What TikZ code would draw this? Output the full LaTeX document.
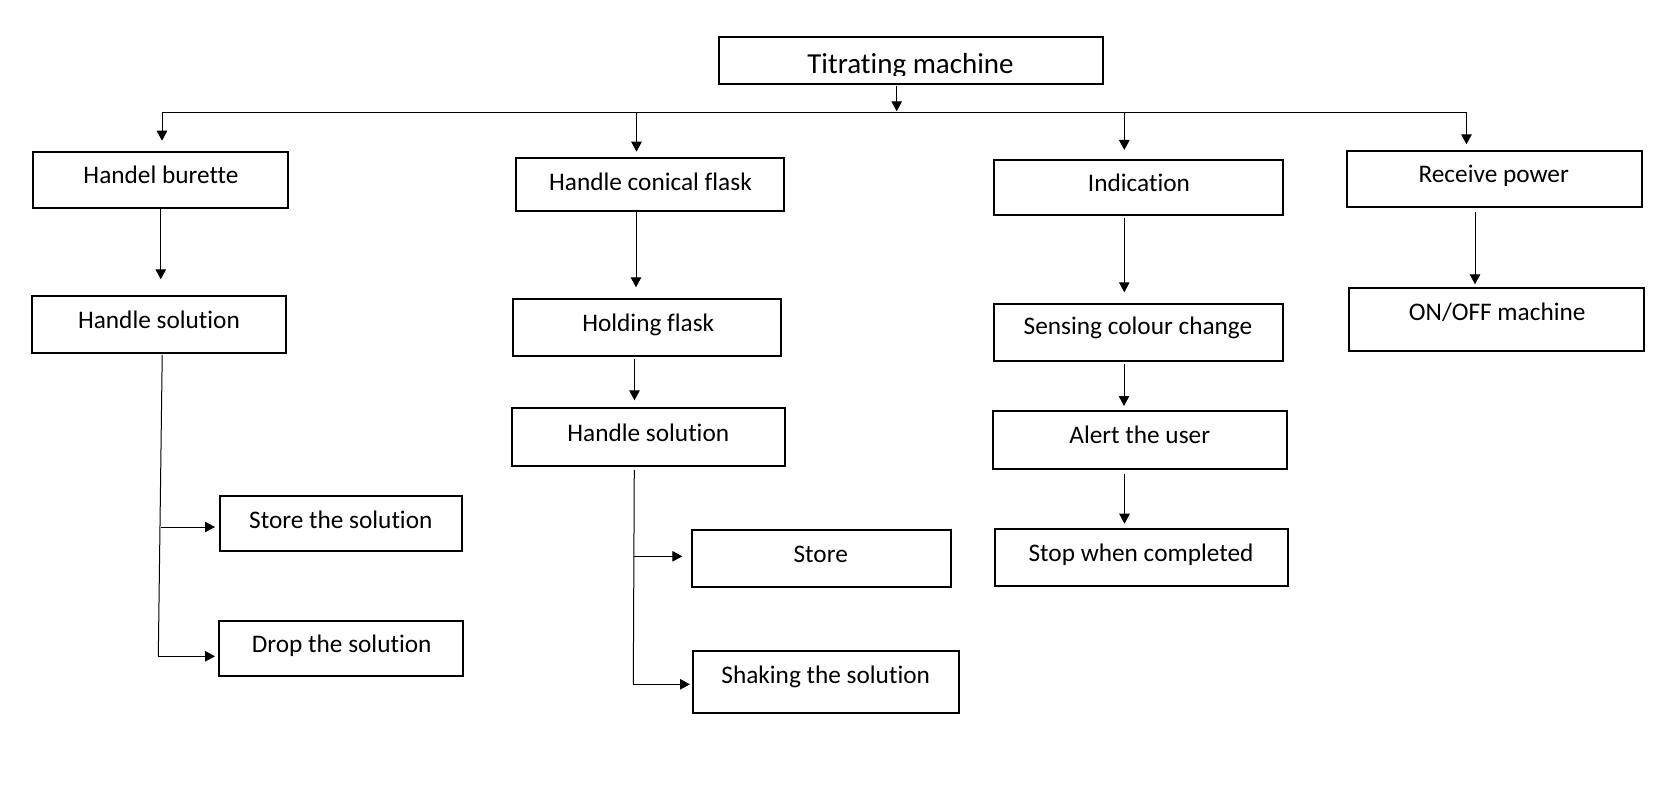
\documentclass[tikz,border=0pt]{standalone}
\usepackage{fontspec}
\setmainfont{Carlito}[Ligatures={NoCommon}]
\usetikzlibrary{arrows.meta}
\begin{document}
\begin{tikzpicture}[x=1pt,y=-1pt,
  box/.style={draw, line width=1.8pt, inner sep=0pt, outer sep=0pt},
  txt/.style={font=\fontsize{25.3}{30}\selectfont, inner sep=0pt, anchor=base},
  conn/.style={line width=1pt},
  arr/.style={line width=1pt, -{Triangle[width=10.5pt,length=10pt]}}]
\useasboundingbox[fill=white] (0,0) rectangle (1675,791);

% boxes
\node[box, minimum width=384pt,   minimum height=47.3pt] (tm)  at (911.3,60.35) {};
\node[box, minimum width=255pt,   minimum height=56.6pt] (hb)  at (160.8,180) {};
\node[box, minimum width=254.3pt, minimum height=57pt]   (hs)  at (158.85,324.2) {};
\node[box, minimum width=242.3pt, minimum height=54.7pt] (st)  at (341.15,523.35) {};
\node[box, minimum width=244pt,   minimum height=55pt]   (dr)  at (341.3,648.5) {};
\node[box, minimum width=268.3pt, minimum height=53.3pt] (hcf) at (649.85,184.35) {};
\node[box, minimum width=268.6pt, minimum height=57pt]   (hf)  at (647,327.5) {};
\node[box, minimum width=273.6pt, minimum height=58.3pt] (hs2) at (648.5,436.85) {};
\node[box, minimum width=259.3pt, minimum height=57.3pt] (st2) at (821.35,558.35) {};
\node[box, minimum width=266.3pt, minimum height=62pt]   (sh)  at (825.85,682) {};
\node[box, minimum width=289pt,   minimum height=55pt]   (ind) at (1138.8,187.5) {};
\node[box, minimum width=289.6pt, minimum height=57pt]   (sen) at (1138.5,332.2) {};
\node[box, minimum width=294.6pt, minimum height=58pt]   (al)  at (1140,440) {};
\node[box, minimum width=293.6pt, minimum height=57pt]   (sp)  at (1141.5,557.2) {};
\node[box, minimum width=295pt,   minimum height=56.3pt] (rp)  at (1494.2,178.85) {};
\node[box, minimum width=295.6pt, minimum height=63.3pt] (oo)  at (1496.5,319.35) {};

% texts
\begin{scope}
\clip (719.3,36.7) rectangle (1103.3,76);
\node[txt, font=\fontsize{29}{34}\selectfont] (tmt) at (910.5,74) {Titrating machine};
\end{scope}
\node[txt] (hbt)  at (161,184)     {Handel burette};
\node[txt] (hst)  at (159,328.3)   {Handle solution};
\node[txt] (stt)  at (340.8,528.3) {Store the solution};
\node[txt] (drt)  at (341.7,652.7) {Drop the solution};
\node[txt] (hcft) at (650.5,190.7) {Handle conical flask};
\node[txt] (hft)  at (648.3,331.7) {Holding flask};
\node[txt] (hs2t) at (648.3,441)   {Handle solution};
\node[txt] (st2t) at (820.7,562.7) {Store};
\node[txt] (sht)  at (825.7,683.3) {Shaking the solution};
\node[txt] (indt) at (1139,191.7)  {Indication};
\node[txt] (sent) at (1138,335)    {Sensing colour change};
\node[txt] (alt)  at (1139.7,443.7) {Alert the user};
\node[txt] (spt)  at (1141,561.7)  {Stop when completed};
\node[txt] (rpt)  at (1493.7,182.7) {Receive power};
\node[txt] (oot)  at (1497.2,320.7) {ON/OFF machine};

% bus
\coordinate (busL) at (162,112.3);
\coordinate (busR) at (1466.5,112.3);
\coordinate (bTop) at (896.7,112.3);
\coordinate (b2) at (636.5,112.3);
\coordinate (b3) at (1124.3,112.3);
\draw[conn] (busL) -- (busR);
\draw[arr, shorten <=2pt, shorten >=1pt] ([xshift=-14.6pt]tm.south) -- (bTop);
\draw[arr, shorten >=11pt] (busL) -- (busL |- hb.north);
\draw[arr, shorten >=6pt] (b2) -- (b2 |- hcf.north);
\draw[arr, shorten >=10pt] (b3) -- (b3 |- ind.north);
\draw[arr, shorten >=6.4pt] (busR) -- (busR |- rp.north);

% column arrows
\draw[arr, shorten >=16.4pt] (hb.south) -- (hb.south |- hs.north);
\draw[arr, shorten <=1.3pt, shorten >=11.7pt] ([xshift=-13.85pt]hcf.south) -- ([xshift=-13.85pt]hcf.south |- hf.north);
\draw[arr, shorten <=3.3pt, shorten >=7.4pt] ([xshift=-12.5pt]hf.south) -- ([xshift=-12.5pt]hf.south |- hs2.north);
\draw[arr, shorten <=2.7pt, shorten >=11.4pt] ([xshift=-14.5pt]ind.south) -- ([xshift=-14.5pt]ind.south |- sen.north);
\draw[arr, shorten <=3.3pt, shorten >=5pt] ([xshift=-14.5pt]sen.south) -- ([xshift=-14.5pt]sen.south |- al.north);
\draw[arr, shorten <=5.3pt, shorten >=5pt] ([xshift=-15.5pt]al.south) -- ([xshift=-15.5pt]al.south |- sp.north);
\draw[arr, shorten <=5.3pt, shorten >=3.4pt] ([xshift=-19.2pt]rp.south) -- ([xshift=-19.2pt]rp.south |- oo.north);

% left branch
\coordinate (lt) at ([xshift=3.4pt]hs.south);
\coordinate (lb1) at (161.3,527);
\coordinate (lb2) at (158.3,656.3);
\draw[conn, shorten <=2.3pt] (lt) -- (lb2);
\draw[arr, shorten >=5pt] (lb1) -- (lb1 -| st.west);
\draw[arr, shorten >=4.3pt] (lb2) -- (lb2 -| dr.west);

% middle branch
\coordinate (mt) at ([xshift=-14.2pt]hs2.south);
\coordinate (mb1) at (634.2,556.3);
\coordinate (mb2) at (633.3,684.3);
\draw[conn, shorten <=4pt] (mt) -- (mb2);
\draw[arr, shorten >=9.4pt] (mb1) -- (mb1 -| st2.west);
\draw[arr, shorten >=2.7pt] (mb2) -- (mb2 -| sh.west);
\end{tikzpicture}
\end{document}
